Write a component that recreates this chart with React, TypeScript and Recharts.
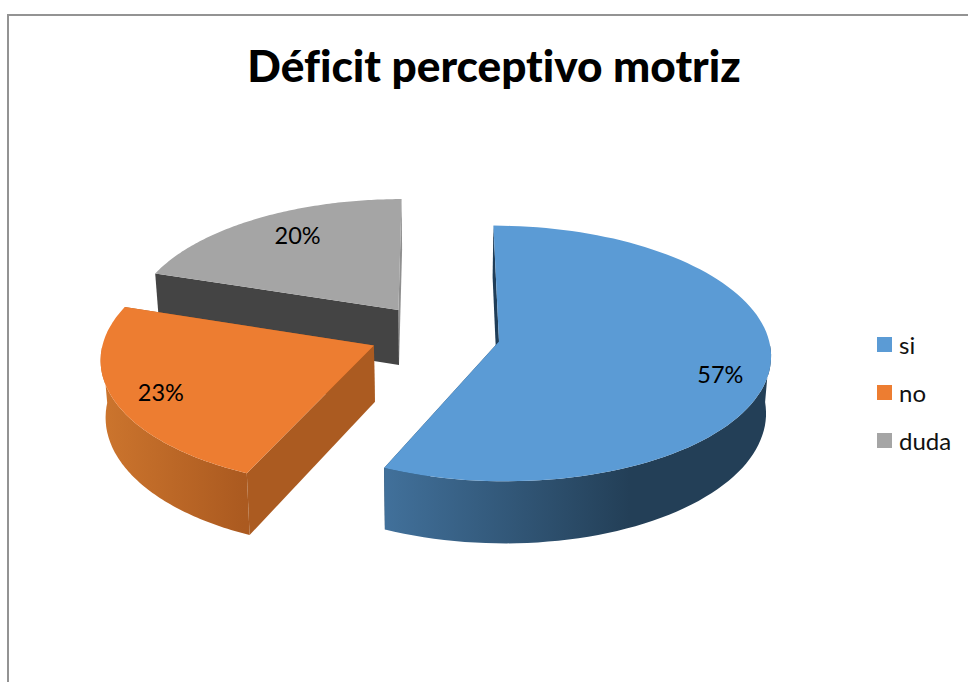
import { PieChart, Pie, Legend } from 'recharts';

const categories = ['si', 'no', 'duda'];
const values = [56.7, 23.3, 20];
const colors = ['#5b9bd5', '#ed7d31', '#a5a5a5'];

// drawn back to front (duda, no, si) so the exploded slices overlap like the original
const chartData = categories
  .map((name, i) => ({ name, value: values[i], fill: colors[i] }))
  .reverse();

// fake 3D: the flat pie is put through a small perspective projection
const TILT = 0.4665;
const PERSPECTIVE = 0.094;
const DEPTH = 56;
const EXPLODE = 0.242;
const BOTTOM_SHRINK = 0.985;

const WALLS: Record<string, { from: string; to: string; x1: number; x2: number; startSide: string; endSide: string; dx: number; dy: number }> = {
  si: { from: '#41709a', to: '#233f57', x1: 387, x2: 630, startSide: '#1f3d58', endSide: '#1f3d58', dx: 0, dy: 0 },
  no: { from: '#cb742d', to: '#ab5a20', x1: 108, x2: 245, startSide: '#ab5b21', endSide: '#ab5b21', dx: -1, dy: -2 },
  duda: { from: '#8a8a8a', to: '#8a8a8a', x1: 150, x2: 402, startSide: '#8f8f8f', endSide: '#444444', dx: 1, dy: -1 },
};

const rad = (a: number) => (a * Math.PI) / 180;

function project(cx: number, cy: number, r: number, u: number, v: number, bottom = false) {
  const s = 1 / (1 - PERSPECTIVE * v);
  const x = r * u * s;
  const y = r * TILT * v * s;
  if (bottom) return [cx + x * BOTTOM_SHRINK, cy + y + DEPTH * s];
  return [cx + x, cy + y];
}

function slicePoints(p: any, bottom: boolean) {
  const { cx, cy, outerRadius: r, startAngle, endAngle } = p;
  const mid = rad((startAngle + endAngle) / 2);
  const ou = EXPLODE * Math.cos(mid);
  const ov = -EXPLODE * Math.sin(mid);
  const apex = project(cx, cy, r, ou, ov, bottom);
  const arc: number[][] = [];
  const front: number[][] = [];
  for (let i = 0; i <= 100; i++) {
    const a = rad(startAngle + ((endAngle - startAngle) * i) / 100);
    const pt = project(cx, cy, r, ou + Math.cos(a), ov - Math.sin(a), bottom);
    arc.push(pt);
    // only the part of the rim that faces the viewer gets a wall
    if (Math.sin(a) < 0) front.push(pt);
  }
  return { apex, arc, front };
}

const toPath = (pts: number[][]) => 'M' + pts.map(q => q[0].toFixed(1) + ',' + q[1].toFixed(1)).join('L') + 'Z';

function Slice3D(props: any) {
  const top = slicePoints(props, false);
  const low = slicePoints(props, true);
  const wall = WALLS[props.name];
  const last = top.arc.length - 1;
  const gid = 'wall-' + props.name;
  return (
    <g transform={`translate(${wall.dx},${wall.dy})`}>
      <defs>
        <linearGradient id={gid} gradientUnits="userSpaceOnUse" x1={wall.x1} x2={wall.x2} y1={0} y2={0}>
          <stop offset="0%" stopColor={wall.from} />
          <stop offset="100%" stopColor={wall.to} />
        </linearGradient>
      </defs>
      <path d={toPath([top.apex, top.arc[0], low.arc[0], low.apex])} fill={wall.startSide} />
      <path d={toPath([top.apex, top.arc[last], low.arc[last], low.apex])} fill={wall.endSide} />
      {top.front.length > 1 && <path d={toPath([...top.front, ...[...low.front].reverse()])} fill={`url(#${gid})`} />}
      <path d={toPath([top.apex, ...top.arc])} fill={props.fill} />
    </g>
  );
}

const LABEL_NUDGE: Record<string, number[]> = { si: [0, 11], no: [-2, 1], duda: [18, 0] };

function renderLabel(props: any) {
  const { cx, cy, outerRadius: r, midAngle, percent, name } = props;
  const mid = rad(midAngle);
  const ou = (EXPLODE + 0.82) * Math.cos(mid);
  const ov = -(EXPLODE + 0.82) * Math.sin(mid);
  const [x, y] = project(cx, cy, r, ou, ov);
  return (
    <text x={x + LABEL_NUDGE[name][0]} y={y + LABEL_NUDGE[name][1]} textAnchor="middle" dominantBaseline="central" fontSize={23.5} fill="#000" fontFamily="Lato">
      {Math.round(percent * 100) + '%'}
    </text>
  );
}

function LegendBox({ payload }: any) {
  const items = [...(payload || [])].reverse();
  return (
    <div>
      {items.map((it: any) => (
        <div key={it.value} style={{ display: 'flex', alignItems: 'center', height: 48 }}>
          <span style={{ width: 15, height: 15, background: it.color, marginRight: 7 }} />
          <span style={{ fontSize: 24, fontFamily: 'Lato', color: '#111' }}>{it.value}</span>
        </div>
      ))}
    </div>
  );
}

export default function App() {
  return (
    <div style={{ position: 'absolute', left: 0, top: 0, width: 968, height: 682, overflow: 'hidden', background: '#fff' }}>
      <div style={{ position: 'absolute', left: 7, top: 14, right: 0, bottom: 0, borderTop: '2px solid #939393', borderLeft: '2px solid #939393' }} />
      <div style={{ position: 'absolute', left: 0, width: 988, top: 35, textAlign: 'center', fontFamily: 'Lato', fontWeight: 900, fontSize: 44.2, color: '#000', lineHeight: '60px', fontVariantLigatures: 'none' }}>
        Déficit perceptivo motriz
      </div>
      <div style={{ position: 'absolute', left: 0, top: 0 }}>
        <PieChart width={968} height={682} margin={{ top: 0, right: 0, bottom: 0, left: 0 }}>
          <Pie
            data={chartData}
            dataKey="value"
            nameKey="name"
            cx={435}
            cy={335}
            innerRadius={0}
            outerRadius={269}
            startAngle={90}
            endAngle={450}
            stroke="none"
            shape={Slice3D}
            label={renderLabel}
            labelLine={false}
            isAnimationActive={false}
          />
          <Legend content={<LegendBox />} wrapperStyle={{ position: 'absolute', left: 877, top: 320, width: 91, bottom: 'auto' }} />
        </PieChart>
      </div>
    </div>
  );
}
